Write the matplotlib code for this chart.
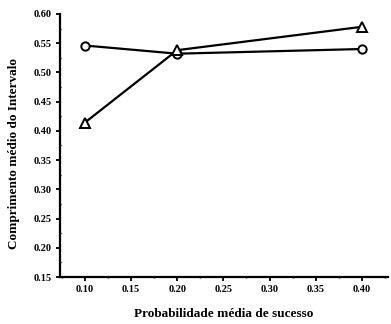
import numpy as np
import matplotlib
matplotlib.use("Agg")
import matplotlib.pyplot as plt
from matplotlib.ticker import MultipleLocator

# Data
prob = [0.10, 0.20, 0.40]
circulo = [0.546, 0.532, 0.540]
triangulo = [0.414, 0.538, 0.578]

plt.rcParams['font.family'] = ['Liberation Serif', 'DejaVu Serif']
plt.rcParams['font.weight'] = 'bold'

fig = plt.figure(figsize=(3.91, 3.24), dpi=100)
ax = fig.add_axes([0.153, 0.145, 0.839, 0.812])

ax.plot(prob, circulo, color='black', lw=1.6, marker='o', ms=6,
        mfc='white', mec='black', mew=1.4)
ax.plot(prob, triangulo, color='black', lw=1.6, marker='^', ms=6.5,
        mfc='white', mec='black', mew=1.4)

ax.set_xlim(0.073, 0.428)
ax.set_ylim(0.15, 0.60)
ax.xaxis.set_major_locator(MultipleLocator(0.05))
ax.yaxis.set_major_locator(MultipleLocator(0.05))
ax.xaxis.set_minor_locator(MultipleLocator(0.025))
ax.yaxis.set_minor_locator(MultipleLocator(0.025))
ax.set_xticks(np.arange(0.10, 0.401, 0.05))
ax.xaxis.set_major_formatter(plt.FuncFormatter(lambda v, p: f"{v:.2f}"))
ax.yaxis.set_major_formatter(plt.FuncFormatter(lambda v, p: f"{v:.2f}"))

for s in ['top', 'right']:
    ax.spines[s].set_visible(False)
for s in ['left', 'bottom']:
    ax.spines[s].set_linewidth(1.6)

ax.tick_params(which='major', direction='out', length=3, width=1.3,
               labelsize=7.5, pad=3)
ax.tick_params(which='minor', direction='inout', length=2, width=1.0)

ax.set_xlabel('Probabilidade média de sucesso', fontsize=9.5, fontweight='bold', labelpad=10)
ax.set_ylabel('Comprimento médio do Intervalo', fontsize=9.5, fontweight='bold')
ax.yaxis.set_label_coords(-0.12, 0.47)

fig.savefig('out.png', dpi=100)
